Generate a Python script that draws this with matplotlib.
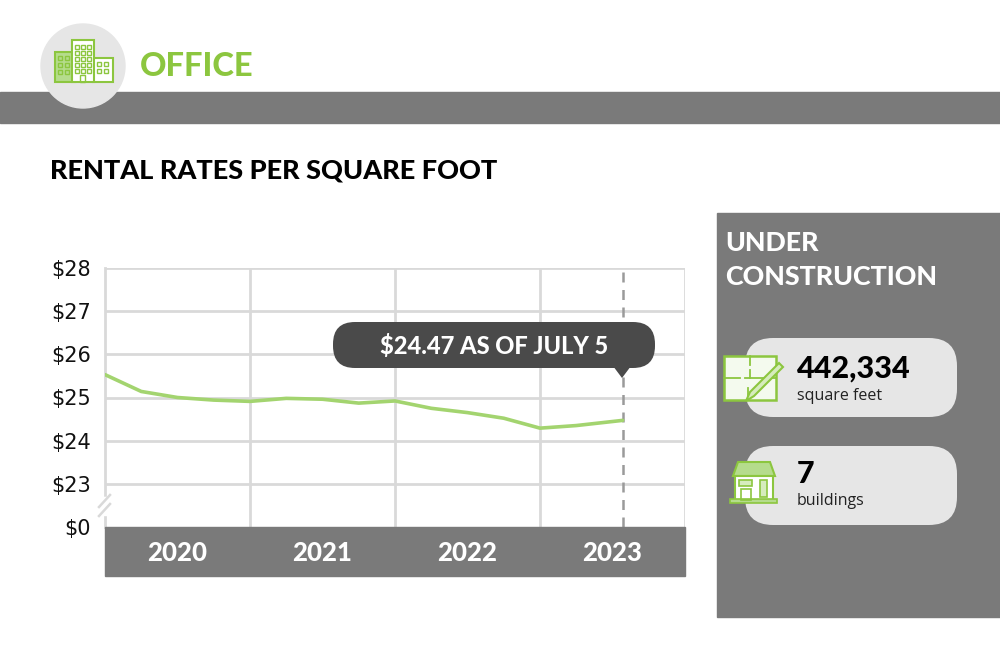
import numpy as np
import matplotlib.pyplot as plt
from matplotlib.patches import Rectangle, Circle, FancyBboxPatch, Polygon

# data (quarterly, last point = July 5 2023)
dates = [2020.0, 2020.25, 2020.5, 2020.75, 2021.0, 2021.25, 2021.5, 2021.75,
         2022.0, 2022.25, 2022.5, 2022.75, 2023.0, 2023.25, 2023.57]
rates = [25.53, 25.14, 25.00, 24.94, 24.91, 24.98, 24.96, 24.87,
         24.92, 24.75, 24.65, 24.52, 24.29, 24.35, 24.47]
years = [2020, 2021, 2022, 2023]
ytick_vals = [0, 23, 24, 25, 26, 27, 28]
ytick_labels = ['$0', '$23', '$24', '$25', '$26', '$27', '$28']
sq_feet = '442,334'
n_buildings = '7'

GREEN = '#8cc63f'
LINE_GREEN = '#a3d46f'
GRAY = '#7a7a7a'
DARK = '#4a4a4a'
GRID = '#d9d9d9'

narrow = ['Liberation Sans Narrow', 'DejaVu Sans']
heavy = ['Lato', 'DejaVu Sans']

fig = plt.figure(figsize=(10, 6.66), dpi=100)
fig.patch.set_facecolor('white')

# break in axis: $0 at 0, $23..$28 at 1..6
def pos(v):
    return 0 if v == 0 else v - 22

# chart axes (pixel box x 105..685, y 268..527)
ax = fig.add_axes([105 / 1000, (666 - 527) / 666, 580 / 1000, (527 - 268) / 666])
ax.set_xlim(2020, 2024)
ax.set_ylim(0, 6)
for s in ax.spines.values():
    s.set_visible(False)
ax.set_xticks([])
ax.set_yticks([pos(v) for v in ytick_vals])
ax.set_yticklabels(ytick_labels, fontsize=15, family=narrow, color='#111111')
ax.tick_params(axis='y', length=0, pad=10)
for v in ytick_vals[1:]:
    ax.axhline(pos(v), color=GRID, lw=2, zorder=1)
for x in years[1:] + [2024]:
    ax.axvline(x, color=GRID, lw=2, zorder=1)
# left edge with break
ax.plot([2020, 2020], [0.75, 6], color=GRID, lw=2, zorder=1, clip_on=False)
ax.plot([2020, 2020], [0, 0.25], color=GRID, lw=2, zorder=1, clip_on=False)
ax.axvline(dates[-1], color='#9a9a9a', lw=1.8, ls=(0, (4, 3)), zorder=2)
ax.plot(dates, [pos(v) for v in rates],
        color=LINE_GREEN, lw=2.6, zorder=3, solid_capstyle='round')

# overlay in pixel coordinates
ov = fig.add_axes([0, 0, 1, 1], facecolor='none')
ov.set_xlim(0, 1000)
ov.set_ylim(666, 0)
ov.axis('off')

# axis break slashes
ov.add_patch(Rectangle((99, 497), 12, 18, color='white', zorder=2))
ov.plot([99, 110], [507, 495], color=GRID, lw=1.8, zorder=3)
ov.plot([99, 110], [516, 504], color=GRID, lw=1.8, zorder=3)

# header band and icon
ov.add_patch(Rectangle((0, 92), 1000, 31, color=GRAY, zorder=1))
ov.add_patch(Circle((83, 66), 42, color='#e6e6e6', zorder=2))
ov.add_patch(Rectangle((55, 52), 20, 30, facecolor='#b5dc8c', edgecolor=GREEN, lw=1.5, zorder=3))
ov.add_patch(Rectangle((93, 58), 20, 24, facecolor='white', edgecolor=GREEN, lw=1.5, zorder=3))
ov.add_patch(Rectangle((72, 40), 22, 42, facecolor='white', edgecolor=GREEN, lw=1.5, zorder=4))
for cx in [75, 81, 87]:
    for cy in [45, 51, 57, 63, 69]:
        ov.add_patch(Rectangle((cx, cy), 3.5, 3.5, facecolor='none', edgecolor=GREEN, lw=1, zorder=5))
for cx in [58, 65]:
    for cy in [56, 63, 70]:
        ov.add_patch(Rectangle((cx, cy), 4, 4, facecolor='none', edgecolor=GREEN, lw=1, zorder=5))
for cx in [97, 104]:
    for cy in [62, 69]:
        ov.add_patch(Rectangle((cx, cy), 4, 4, facecolor='none', edgecolor=GREEN, lw=1, zorder=5))
ov.add_patch(Rectangle((80, 75), 5, 7, facecolor='none', edgecolor=GREEN, lw=1, zorder=5))
ov.text(140, 67, 'OFFICE', color=GREEN, fontsize=23.5, fontweight=900,
        family=heavy, va='center', ha='left', zorder=5)

ov.text(50, 171, 'RENTAL RATES PER SQUARE FOOT', color='black', fontsize=19.5,
        fontweight=900, family=heavy, va='center', ha='left')

# x axis band with years
ov.add_patch(Rectangle((105, 527), 580, 49, color=GRAY, zorder=1))
for i, y in enumerate(years):
    xc = 105 + 145 * i + 72.5
    ov.text(xc, 553, str(y), color='white', fontsize=18.5, fontweight=900,
            family=heavy, ha='center', va='center', zorder=3)

# tooltip
ov.add_patch(FancyBboxPatch((333, 322), 322, 46, boxstyle='round,pad=0,rounding_size=22',
                            facecolor=DARK, edgecolor='none', zorder=6))
ov.add_patch(Polygon([(613, 366), (631, 366), (622, 378)], closed=True,
                     facecolor=DARK, edgecolor='none', zorder=6))
ov.text(494, 346, '$24.47 AS OF JULY 5', color='white', fontsize=17, fontweight=900,
        family=heavy, ha='center', va='center', zorder=7)

# right panel
ov.add_patch(Rectangle((717, 213), 283, 404, color=GRAY, zorder=1))
ov.text(725, 243, 'UNDER', color='white', fontsize=19.3, fontweight=900,
        family=heavy, ha='left', va='center', zorder=3)
ov.text(725, 277, 'CONSTRUCTION', color='white', fontsize=19.3, fontweight=900,
        family=heavy, ha='left', va='center', zorder=3)
for top in [338, 446]:
    ov.add_patch(FancyBboxPatch((745, top), 212, 79, boxstyle='round,pad=0,rounding_size=28',
                                facecolor='#e6e6e6', edgecolor='none', zorder=2))
ov.text(797, 369, sq_feet, color='black', fontsize=22, fontweight=900,
        family=heavy, ha='left', va='center', zorder=3)
ov.text(797, 396, 'square feet', color='#222222', fontsize=11.5,
        family=['Open Sans', 'DejaVu Sans'], ha='left', va='center', zorder=3)
ov.text(797, 474, n_buildings, color='black', fontsize=22, fontweight=900,
        family=heavy, ha='left', va='center', zorder=3)
ov.text(797, 501, 'buildings', color='#222222', fontsize=11.5,
        family=['Open Sans', 'DejaVu Sans'], ha='left', va='center', zorder=3)

# floor plan icon
ov.add_patch(Rectangle((724, 356), 52, 44, facecolor='#f4faee', edgecolor=GREEN, lw=1.8, zorder=4))
ov.plot([724, 740], [378, 378], color=GREEN, lw=1.3, zorder=5)
ov.plot([745, 776], [378, 378], color=GREEN, lw=1.3, zorder=5)
ov.plot([750, 750], [356, 365], color=GREEN, lw=1.3, zorder=5)
ov.plot([750, 750], [370, 378], color=GREEN, lw=1.3, zorder=5)
ov.plot([748, 748], [388, 400], color=GREEN, lw=1.3, zorder=5)
ov.add_patch(Polygon([(746, 401), (750, 392), (779, 363), (783, 367), (754, 396)],
                     closed=True, facecolor='#d6ecbd', edgecolor=GREEN, lw=1.5, zorder=6))

# house icon
ov.add_patch(Polygon([(733, 476), (738, 462), (770, 462), (775, 476)], closed=True,
                     facecolor='#b5dc8c', edgecolor=GREEN, lw=1.5, zorder=4))
ov.add_patch(Rectangle((735, 476), 38, 24, facecolor='white', edgecolor=GREEN, lw=1.5, zorder=4))
ov.add_patch(Rectangle((730, 499), 47, 4, facecolor='#b5dc8c', edgecolor=GREEN, lw=1.2, zorder=5))
ov.add_patch(Rectangle((739, 480), 13, 6, facecolor='#d6ecbd', edgecolor=GREEN, lw=1.2, zorder=5))
ov.add_patch(Rectangle((741, 489), 10, 11, facecolor='none', edgecolor=GREEN, lw=1.2, zorder=5))
ov.add_patch(Rectangle((760, 480), 7, 17, facecolor='#d6ecbd', edgecolor=GREEN, lw=1.2, zorder=5))

fig.savefig('out.png', dpi=100)
